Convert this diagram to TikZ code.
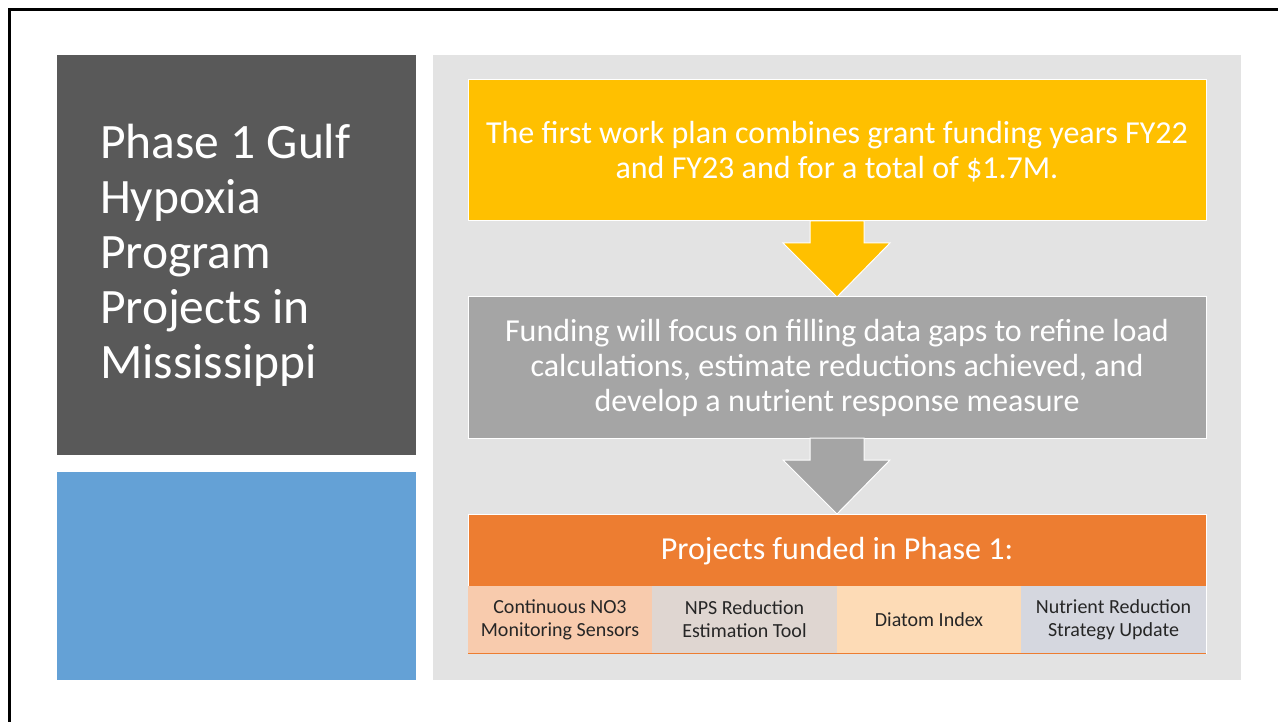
\documentclass[tikz,border=0pt]{standalone}
\usepackage{fontspec}
\setmainfont{Carlito}
\definecolor{darkbox}{HTML}{595959}
\definecolor{bluebox}{HTML}{64A1D6}
\definecolor{panel}{HTML}{E3E3E3}
\definecolor{yell}{HTML}{FFC000}
\definecolor{greybox}{HTML}{A5A5A5}
\definecolor{orng}{HTML}{ED7D31}
\definecolor{cellA}{HTML}{F8CBAD}
\definecolor{cellB}{HTML}{DFD6D1}
\definecolor{cellC}{HTML}{FDDBB6}
\definecolor{cellD}{HTML}{D5D7DF}
\begin{document}
\begin{tikzpicture}[x=1pt,y=-1pt,
  rect/.style={draw=none,inner sep=0pt,outer sep=0pt},
  flowbox/.style={draw=white,line width=1pt,inner sep=0pt,outer sep=0pt,text=white,align=center},
  cell/.style={inner sep=0pt,outer sep=0pt,align=center,text=black!85,font=\fontsize{20}{23}\selectfont},
  bigtext/.style={rect,text=white,align=center,font=\fontsize{32}{35}\selectfont},
  blockarrow/.style={draw=white,line width=1pt}]
\useasboundingbox (0,0) rectangle (1278,722);
\fill[white] (0,0) rectangle (1278,722);
% frame
\draw[line width=3pt,black] (9.5,722) -- (9.5,9.5) -- (1278,9.5);
% left boxes
\fill[darkbox] (57,55) rectangle (416,455);
\node[rect,anchor=north west,text=white,align=left,font=\fontsize{49.5}{55}\selectfont] (title) at (100,124)
  {Phase 1 Gulf\\Hypoxia\\Program\\Projects in\\Mississippi};
\fill[bluebox] (57,472) rectangle (416,680);
\node[rect] (blue) at (236.5,576) {};
% right panel
\fill[panel] (433,55) rectangle (1241,680);
\node[rect] (panelc) at (837,367) {};
% yellow box
\draw[fill=yell,flowbox] (468,80) rectangle (1206,221);
\node[bigtext] (plan) at (837,152)
  {The first work plan combines grant funding years FY22\\and FY23 and for a total of \$1.7M.};
% arrow 1
\draw[blockarrow,fill=yell] (810,221) -- (864,221) -- (864,243) -- (890,243) -- (837,297) -- (783,243) -- (810,243) -- cycle;
% grey box
\draw[fill=greybox,flowbox] (468,297) rectangle (1206,438);
\node[bigtext] (focus) at (837,368)
  {Funding will focus on filling data gaps to refine load\\calculations, estimate reductions achieved, and\\develop a nutrient response measure};
% arrow 2
\draw[blockarrow,fill=greybox] (810,438) -- (864,438) -- (864,460) -- (890,460) -- (837,514) -- (783,460) -- (810,460) -- cycle;
% orange header
\draw[fill=orng,draw=white,line width=1pt] (468,514) rectangle (1206,586);
\node[rect,text=white,font=\fontsize{32}{36}\selectfont] (head) at (837,551) {Projects funded in Phase 1:};
% cells
\fill[cellA] (468,586) rectangle (652,653);
\fill[cellB] (652,586) rectangle (837,653);
\fill[cellC] (837,586) rectangle (1021,653);
\fill[cellD] (1021,586) rectangle (1206,653);
\draw[orng,line width=1.5pt] (468,653.5) -- (1206,653.5);
\draw[white,line width=1pt] (1206.5,586) -- (1206.5,654);
\node[cell] (c1) at (560,619.5) {Continuous NO3\\Monitoring Sensors};
\node[cell] (c2) at (744.5,619.5) {NPS Reduction\\Estimation Tool};
\node[cell] (c3) at (929,619.5) {Diatom Index};
\node[cell] (c4) at (1113.5,619.5) {Nutrient Reduction\\Strategy Update};
\end{tikzpicture}
\end{document}
